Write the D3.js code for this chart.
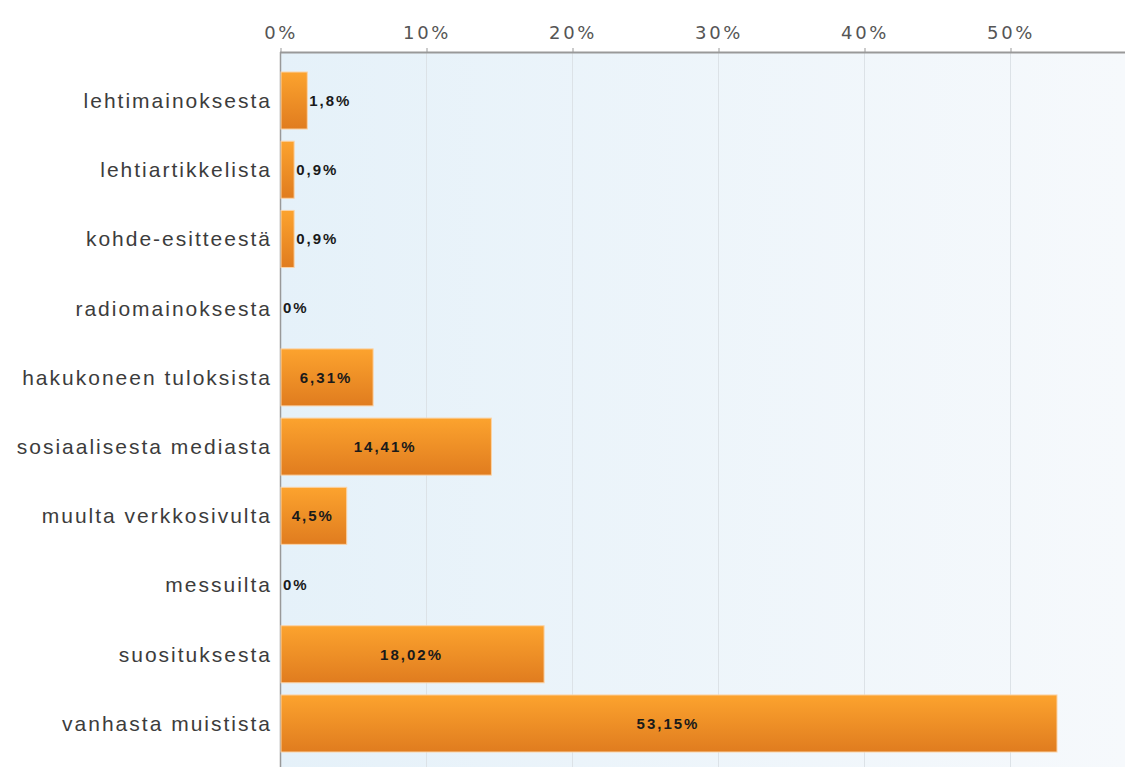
<!DOCTYPE html>
<html>
<head>
<meta charset="utf-8">
<script src="https://cdn.jsdelivr.net/npm/d3@7/dist/d3.min.js"></script>
<style>
  html, body { margin: 0; padding: 0; background: #ffffff; }
  svg { display: block; }
</style>
</head>
<body>
<svg id="chart" width="1125" height="767"></svg>
<script>
// Mistä kuulit meistä? – vastausten jakauma (%)
const categories = [
  "lehtimainoksesta",
  "lehtiartikkelista",
  "kohde-esitteestä",
  "radiomainoksesta",
  "hakukoneen tuloksista",
  "sosiaalisesta mediasta",
  "muulta verkkosivulta",
  "messuilta",
  "suosituksesta",
  "vanhasta muistista"
];
const values = [1.8, 0.9, 0.9, 0, 6.31, 14.41, 4.5, 0, 18.02, 53.15];
const valueLabels = ["1,8%", "0,9%", "0,9%", "0%", "6,31%", "14,41%", "4,5%", "0%", "18,02%", "53,15%"];
const ticks = [0, 10, 20, 30, 40, 50];

const W = 1125, H = 767;
const margin = { top: 52, left: 280 };
const svg = d3.select("#chart");

const x = d3.scaleLinear().domain([0, 10]).range([margin.left, margin.left + 146]);
const y = d3.scaleBand().domain(categories).range([72, 752]).paddingInner(0.176).paddingOuter(0);

const defs = svg.append("defs");
const bg = defs.append("linearGradient").attr("id", "bgGrad").attr("x1", 0).attr("x2", 1).attr("y1", 0).attr("y2", 0);
bg.append("stop").attr("offset", "0%").attr("stop-color", "#e5f1f9");
bg.append("stop").attr("offset", "100%").attr("stop-color", "#f6f9fc");

const barGrad = defs.append("linearGradient").attr("id", "barGrad").attr("x1", 0).attr("x2", 0).attr("y1", 0).attr("y2", 1);
barGrad.append("stop").attr("offset", "0%").attr("stop-color", "#fca32e");
barGrad.append("stop").attr("offset", "100%").attr("stop-color", "#e07c1f");

// plot background
svg.append("rect")
  .attr("x", margin.left).attr("y", margin.top)
  .attr("width", W - margin.left).attr("height", H - margin.top)
  .attr("fill", "url(#bgGrad)");

// vertical gridlines
svg.append("g").selectAll("line").data(ticks.filter(d => d > 0)).join("line")
  .attr("x1", d => x(d) + 0.5).attr("x2", d => x(d) + 0.5)
  .attr("y1", margin.top).attr("y2", H)
  .attr("stroke", "#dce2e7").attr("stroke-width", 1);

// top axis
const axis = d3.axisTop(x).tickValues(ticks).tickFormat(d => d + "%").tickSize(4).tickPadding(9);
const gAxis = svg.append("g").attr("transform", `translate(0.5,${margin.top})`).call(axis);
gAxis.select(".domain").remove();
gAxis.selectAll(".tick line").attr("stroke", "#999");
gAxis.selectAll(".tick text")
  .attr("fill", "#555").attr("font-family", "DejaVu Sans, sans-serif")
  .attr("font-size", 18).attr("letter-spacing", 2.6);
svg.append("line")
  .attr("x1", margin.left).attr("x2", W).attr("y1", margin.top + 0.5).attr("y2", margin.top + 0.5)
  .attr("stroke", "#999").attr("stroke-width", 2);
// left axis line
svg.append("line")
  .attr("x1", margin.left + 0.5).attr("x2", margin.left + 0.5).attr("y1", margin.top).attr("y2", H)
  .attr("stroke", "#999").attr("stroke-width", 1.5);

// category labels
svg.append("g").selectAll("text").data(categories).join("text")
  .attr("x", margin.left - 8)
  .attr("y", d => y(d) + y.bandwidth() / 2)
  .attr("dy", "0.35em")
  .attr("text-anchor", "end")
  .attr("fill", "#3c3c3c")
  .attr("font-family", "Liberation Sans, Arial, sans-serif")
  .attr("font-size", 21)
  .attr("letter-spacing", 2)
  .text(d => d);

const rows = categories.map((c, i) => ({ c, v: values[i], label: valueLabels[i] }));

// bars
svg.append("g").selectAll("rect").data(rows.filter(d => d.v > 0)).join("rect")
  .attr("x", x(0) + 1)
  .attr("y", d => y(d.c))
  .attr("width", d => x(d.v) - x(0))
  .attr("height", y.bandwidth())
  .attr("fill", "url(#barGrad)")
  .attr("stroke", "#fbd3a6")
  .attr("stroke-width", 1);

// value labels: inside the bar when it is wide enough, otherwise just after it
svg.append("g").selectAll("text").data(rows).join("text")
  .each(function(d) {
    const w = x(d.v) - x(0);
    const inside = w > 55;
    d3.select(this)
      .attr("x", inside ? x(0) + w / 2 : x(d.v) + 3)
      .attr("text-anchor", inside ? "middle" : "start");
  })
  .attr("y", d => y(d.c) + y.bandwidth() / 2)
  .attr("dy", "0.35em")
  .attr("fill", "#1a1a1a")
  .attr("font-family", "Liberation Sans, Arial, sans-serif")
  .attr("font-weight", "bold")
  .attr("font-size", 15)
  .attr("letter-spacing", 2)
  .text(d => d.label);
</script>
</body>
</html>
